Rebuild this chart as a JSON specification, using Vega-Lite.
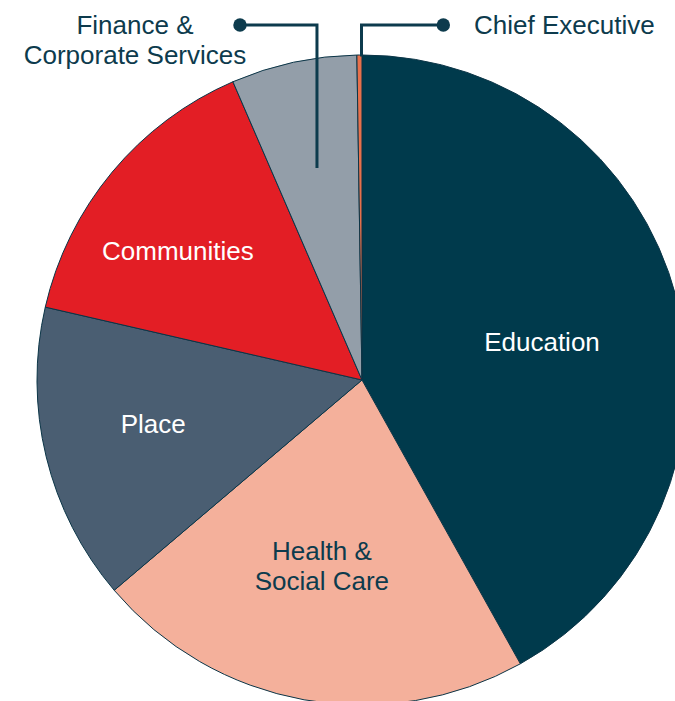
{
  "$schema": "https://vega.github.io/schema/vega-lite/v6.json",
  "width": 675,
  "height": 701,
  "autosize": "none",
  "padding": 0,
  "background": "white",
  "config": {"view": {"stroke": null}, "text": {"font": "Liberation Sans"}},
  "datasets": {
    "slices": [
      {"name": "Education", "value": 41.9, "rank": 1, "label": "Education"},
      {"name": "Health & Social Care", "value": 21.9, "rank": 2, "label": "Health &\nSocial Care"},
      {"name": "Place", "value": 14.8, "rank": 3, "label": "Place"},
      {"name": "Communities", "value": 14.9, "rank": 4, "label": "Communities"},
      {"name": "Finance & Corporate Services", "value": 6.25, "rank": 5, "label": "Finance &\nCorporate Services"},
      {"name": "Chief Executive", "value": 0.25, "rank": 6, "label": "Chief Executive"}
    ],
    "leaders": [
      {"callout": "Finance & Corporate Services", "step": 1, "x": -0.3754, "y": 1.0923},
      {"callout": "Finance & Corporate Services", "step": 2, "x": -0.1385, "y": 1.0923},
      {"callout": "Finance & Corporate Services", "step": 3, "x": -0.1385, "y": 0.6523},
      {"callout": "Chief Executive", "step": 1, "x": 0.2502, "y": 1.0923},
      {"callout": "Chief Executive", "step": 2, "x": -0.0015, "y": 1.0923},
      {"callout": "Chief Executive", "step": 3, "x": -0.0015, "y": 0.995}
    ],
    "outside": [
      {"label": "Finance &\nCorporate Services", "x": -0.6985, "y": 1.0637, "side": "center"},
      {"label": "Chief Executive", "x": 0.3446, "y": 1.0646, "side": "left"}
    ]
  },
  "layer": [
    {
      "data": {"name": "slices"},
      "mark": {"type": "arc", "outerRadius": 325, "stroke": "#0b3547", "strokeWidth": 1},
      "encoding": {
        "x": {"datum": 0, "type": "quantitative", "scale": {"domain": [-1.1138, 0.9631], "nice": false, "zero": false}, "axis": null},
        "y": {"datum": 0, "type": "quantitative", "scale": {"domain": [-0.9877, 1.1692], "nice": false, "zero": false}, "axis": null},
        "theta": {"field": "value", "type": "quantitative", "stack": true},
        "order": {"field": "rank", "type": "quantitative"},
        "color": {
          "field": "name", "type": "nominal", "legend": null,
          "scale": {
            "domain": ["Education", "Health & Social Care", "Place", "Communities", "Finance & Corporate Services", "Chief Executive"],
            "range": ["#003a4c", "#f4b09b", "#4a5e72", "#e31e25", "#939ea9", "#e8704b"]
          }
        }
      }
    },
    {
      "data": {"name": "slices"},
      "mark": {"type": "text", "radius": 186, "dy": 10, "fontSize": 26, "align": "center", "baseline": "middle", "fill": "#ffffff"},
      "encoding": {
        "x": {"datum": 0, "type": "quantitative"},
        "y": {"datum": 0, "type": "quantitative"},
        "theta": {"field": "value", "type": "quantitative", "stack": true},
        "order": {"field": "rank", "type": "quantitative"},
        "text": {"condition": {"test": "datum.name == 'Education'", "field": "label"}, "value": ""}
      }
    },
    {
      "data": {"name": "slices"},
      "mark": {"type": "text", "radius": 186, "dx": -7, "dy": -11, "fontSize": 26, "lineBreak": "\n", "lineHeight": 30, "align": "center", "baseline": "middle", "fill": "#0d3b4d"},
      "encoding": {
        "x": {"datum": 0, "type": "quantitative"},
        "y": {"datum": 0, "type": "quantitative"},
        "theta": {"field": "value", "type": "quantitative", "stack": true},
        "order": {"field": "rank", "type": "quantitative"},
        "text": {"condition": {"test": "datum.name == 'Health & Social Care'", "field": "label"}, "value": ""}
      }
    },
    {
      "data": {"name": "slices"},
      "mark": {"type": "text", "radius": 220, "dx": 5, "dy": -7, "fontSize": 26, "align": "center", "baseline": "middle", "fill": "#ffffff"},
      "encoding": {
        "x": {"datum": 0, "type": "quantitative"},
        "y": {"datum": 0, "type": "quantitative"},
        "theta": {"field": "value", "type": "quantitative", "stack": true},
        "order": {"field": "rank", "type": "quantitative"},
        "text": {"condition": {"test": "datum.name == 'Place'", "field": "label"}, "value": ""}
      }
    },
    {
      "data": {"name": "slices"},
      "mark": {"type": "text", "radius": 220, "dx": -15, "dy": 13, "fontSize": 26, "align": "center", "baseline": "middle", "fill": "#ffffff"},
      "encoding": {
        "x": {"datum": 0, "type": "quantitative"},
        "y": {"datum": 0, "type": "quantitative"},
        "theta": {"field": "value", "type": "quantitative", "stack": true},
        "order": {"field": "rank", "type": "quantitative"},
        "text": {"condition": {"test": "datum.name == 'Communities'", "field": "label"}, "value": ""}
      }
    },
    {
      "data": {"name": "leaders"},
      "mark": {"type": "line", "stroke": "#0d3b4d", "strokeWidth": 3, "strokeJoin": "miter"},
      "encoding": {
        "x": {"field": "x", "type": "quantitative"},
        "y": {"field": "y", "type": "quantitative"},
        "detail": {"field": "callout"},
        "order": {"field": "step", "type": "quantitative"}
      }
    },
    {
      "data": {"name": "leaders"},
      "transform": [{"filter": "datum.step == 1"}],
      "mark": {"type": "point", "filled": true, "fill": "#0d3b4d", "opacity": 1, "size": 180, "shape": "circle"},
      "encoding": {
        "x": {"field": "x", "type": "quantitative"},
        "y": {"field": "y", "type": "quantitative"}
      }
    },
    {
      "data": {"name": "outside"},
      "transform": [{"filter": "datum.side == 'center'"}],
      "mark": {"type": "text", "fontSize": 26, "lineBreak": "\n", "lineHeight": 30, "align": "center", "baseline": "alphabetic", "fill": "#0d3b4d"},
      "encoding": {
        "x": {"field": "x", "type": "quantitative"},
        "y": {"field": "y", "type": "quantitative"},
        "text": {"field": "label"}
      }
    },
    {
      "data": {"name": "outside"},
      "transform": [{"filter": "datum.side == 'left'"}],
      "mark": {"type": "text", "fontSize": 26, "align": "left", "baseline": "alphabetic", "fill": "#0d3b4d"},
      "encoding": {
        "x": {"field": "x", "type": "quantitative"},
        "y": {"field": "y", "type": "quantitative"},
        "text": {"field": "label"}
      }
    }
  ]
}
